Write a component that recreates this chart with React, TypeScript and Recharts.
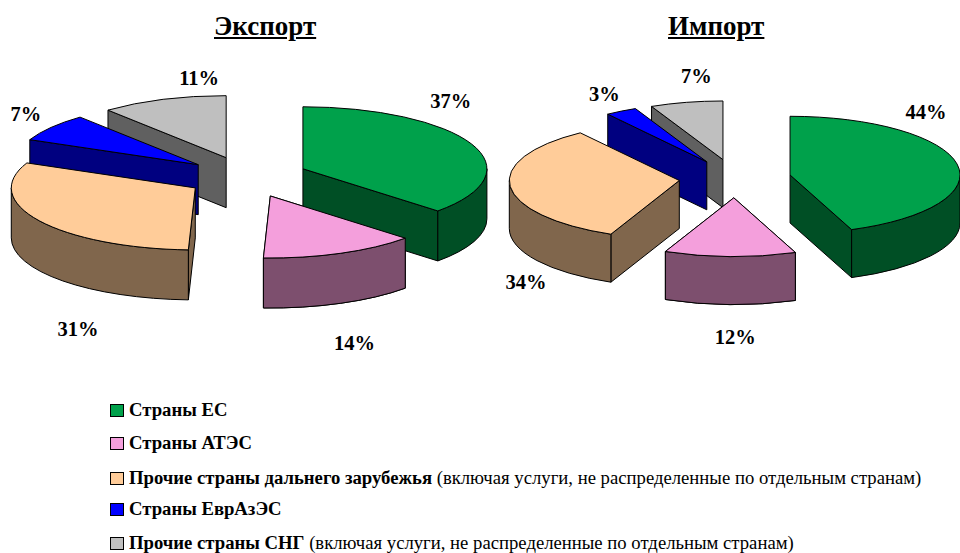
import React from "react";
import { PieChart, Pie } from "recharts";

const categories = [
  "Страны ЕС",
  "Страны АТЭС",
  "Прочие страны дальнего зарубежья",
  "Страны ЕврАзЭС",
  "Прочие страны СНГ",
];
const legendNotes = [
  "",
  "",
  " (включая услуги, не распределенные по отдельным странам)",
  "",
  " (включая услуги, не распределенные по отдельным странам)",
];
// estimates from the slice sizes, the printed labels are these values rounded
const exportShares = [36.9, 13.7, 31, 7.3, 11.1];
const importShares = [44.1, 12.49, 33.51, 3, 6.9];
const topColors = ["#00A14B", "#F49FDC", "#FFCC99", "#0000FF", "#BFBFBF"];
const sideColors = ["#004F25", "#7D4F6E", "#80664C", "#000080", "#606060"];

const FONT = '"Liberation Serif", "Times New Roman", serif';

interface Geom {
  squash: number;
  depth: number;
  explode: number;
  nudges: number[][];
}

const exportGeom: Geom = {
  squash: 0.337,
  depth: 50,
  explode: 61,
  nudges: [[35, -51], [37, 109], [-13, 119], [-74, -26], [15, -41]],
};
const importGeom: Geom = {
  squash: 0.345,
  depth: 48,
  explode: 56,
  nudges: [[24, -56], [4, 100], [-40, 97], [-45, -34], [-2, -45]],
};

const PINK = 1;

const rad = (d: number) => (d * Math.PI) / 180;

// the pie is laid out by recharts, this only projects each sector to a tilted 3d wedge
const makeShape = (g: Geom, only?: number) => (props: any) => {
  const { cx, cy, outerRadius: R, startAngle, endAngle, payload } = props;
  if (only !== undefined && payload.index !== only) return <g />;
  const span = Math.abs(endAngle - startAngle);
  let b = (90 - startAngle + 720) % 360;
  if (b < 0.001) b = 360;
  const a = b - span;
  const mid = (a + b) / 2;
  const ry = R * g.squash;
  const ox = cx + g.explode * Math.sin(rad(mid));
  const oy = cy - g.explode * g.squash * Math.cos(rad(mid));
  const pt = (t: number, dy = 0) => [ox + R * Math.sin(rad(t)), oy - ry * Math.cos(rad(t)) + dy];
  const top = topColors[payload.index];
  const side = sideColors[payload.index];
  const [sx, sy] = pt(a);
  const [ex, ey] = pt(b);
  const d = g.depth;
  const lo = Math.max(a, 90);
  const hi = Math.min(b, 270);
  const wall = (x: number, y: number) =>
    `M${ox},${oy} L${x},${y} L${x},${y + d} L${ox},${oy + d} Z`;
  let curved = "";
  if (lo < hi) {
    const [x1, y1] = pt(lo);
    const [x2, y2] = pt(hi);
    curved = `M${x1},${y1} A${R},${ry} 0 0 1 ${x2},${y2} L${x2},${y2 + d} A${R},${ry} 0 0 0 ${x1},${y1 + d} Z`;
  }
  const large = span > 180 ? 1 : 0;
  return (
    <g stroke="#000" strokeWidth={1} strokeLinejoin="round">
      {Math.sin(rad(a)) < -0.001 && <path d={wall(sx, sy)} fill={side} />}
      {Math.sin(rad(b)) > 0.001 && <path d={wall(ex, ey)} fill={side} />}
      {curved && <path d={curved} fill={side} />}
      <path d={`M${ox},${oy} L${sx},${sy} A${R},${ry} 0 ${large} 1 ${ex},${ey} Z`} fill={top} />
    </g>
  );
};

const makeLabel = (g: Geom) => (props: any) => {
  const { cx, cy, outerRadius: R, midAngle, payload, value } = props;
  const t = rad(90 - midAngle);
  const [nx, ny] = g.nudges[payload.index];
  return (
    <text
      x={cx + R * Math.sin(t) + nx}
      y={cy - R * g.squash * Math.cos(t) + ny}
      textAnchor="middle"
      dominantBaseline="central"
      fontFamily={FONT}
      fontWeight="bold"
      fontSize={20.5}
      fill="#000"
    >
      {Math.round(value)}%
    </text>
  );
};

// reversed so the back slices paint first, the pie then runs anticlockwise from the top
const rows = (shares: number[]) =>
  categories.map((name, index) => ({ name, index, value: shares[index] })).reverse();

const titleStyle: React.CSSProperties = {
  position: "absolute",
  top: 11,
  fontFamily: FONT,
  fontWeight: "bold",
  fontSize: 27,
  textDecoration: "underline",
  lineHeight: "30px",
  color: "#000",
};

const legendTops = [410, 443, 478, 509, 543];

const pieProps = {
  dataKey: "value",
  startAngle: 90,
  endAngle: 450,
  labelLine: false,
  isAnimationActive: false,
};

const App = () => {
  return (
    <div style={{ position: "absolute", left: 0, top: 0, width: 960, height: 553, overflow: "hidden", background: "#fff" }}>
      <div style={{ ...titleStyle, left: 214 }}>Экспорт</div>
      <div style={{ ...titleStyle, left: 668 }}>Импорт</div>
      <PieChart width={960} height={400} margin={{ top: 0, right: 0, bottom: 0, left: 0 }}>
        <Pie
          {...pieProps}
          data={rows(exportShares)}
          cx={247}
          cy={177}
          outerRadius={184}
          shape={makeShape(exportGeom)}
          label={makeLabel(exportGeom)}
        />
        {/* the pink slice sits in front of the green one in the original */}
        <Pie
          {...pieProps}
          data={rows(exportShares)}
          cx={247}
          cy={177}
          outerRadius={184}
          shape={makeShape(exportGeom, PINK)}
        />
        <Pie
          {...pieProps}
          data={rows(importShares)}
          cx={735}
          cy={178.5}
          outerRadius={170}
          shape={makeShape(importGeom)}
          label={makeLabel(importGeom)}
        />
        <Pie
          {...pieProps}
          data={rows(importShares)}
          cx={735}
          cy={178.5}
          outerRadius={170}
          shape={makeShape(importGeom, PINK)}
        />
      </PieChart>
      {categories.map((name, i) => (
        <div
          key={name}
          style={{
            position: "absolute",
            left: 110,
            top: legendTops[i] - 11,
            height: 22,
            lineHeight: "22px",
            whiteSpace: "nowrap",
            fontFamily: FONT,
            fontSize: 18.7,
            color: "#000",
          }}
        >
          <span
            style={{
              display: "inline-block",
              width: 12,
              height: 11,
              marginRight: 5,
              background: topColors[i],
              border: "1px solid #000",
              verticalAlign: "-1px",
            }}
          />
          <b>{name}</b>
          {legendNotes[i]}
        </div>
      ))}
    </div>
  );
};

export default App;
